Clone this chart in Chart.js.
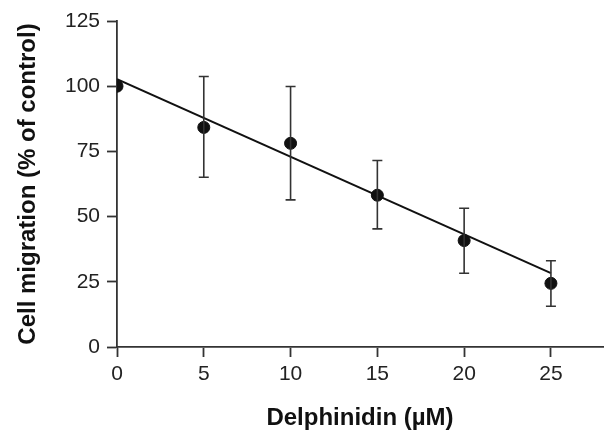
<!DOCTYPE html>
<html lang="en">
<head>
    <meta charset="UTF-8">
    <title>Delphinidin cell migration</title>
    <script src="https://cdn.jsdelivr.net/npm/chart.js"></script>
    <style>
        html, body { margin: 0; padding: 0; background: #fff; }
        #wrap { width: 610px; height: 437px; }
    </style>
</head>
<body>
    <div id="wrap"><canvas id="migrationChart"></canvas></div>

    <script>
        // data
        const doses = [0, 5, 10, 15, 20, 25];
        const migration = [100, 84.2, 78.1, 58.2, 40.8, 24.4];
        const errTop = [100, 103.7, 99.9, 71.5, 53.2, 33.1];
        const errBottom = [100, 65.1, 56.4, 45.3, 28.3, 15.6];
        const fitX = [0, 25];
        const fitY = [102.7, 28.3];
        const yTicks = [0, 25, 50, 75, 100, 125];

        const FONT = "'Liberation Sans', Arial, sans-serif";

        // error bars drawn through the scales
        const errorBars = {
            id: 'errorBars',
            afterDatasetsDraw(chart) {
                const { ctx, scales: { x, y } } = chart;
                ctx.save();
                ctx.strokeStyle = '#333';
                ctx.lineWidth = 1.6;
                doses.forEach((d, i) => {
                    if (errTop[i] === errBottom[i]) return;
                    const px = x.getPixelForValue(d);
                    const top = y.getPixelForValue(errTop[i]);
                    const bot = y.getPixelForValue(errBottom[i]);
                    ctx.beginPath();
                    ctx.moveTo(px, top); ctx.lineTo(px, bot);
                    ctx.moveTo(px - 5, top); ctx.lineTo(px + 5, top);
                    ctx.moveTo(px - 5, bot); ctx.lineTo(px + 5, bot);
                    ctx.stroke();
                });
                ctx.restore();
            }
        };

        new Chart(document.getElementById('migrationChart'), {
            type: 'scatter',
            data: {
                datasets: [
                    {
                        label: 'Fit',
                        data: fitX.map((v, i) => ({ x: v, y: fitY[i] })),
                        showLine: true,
                        borderColor: '#111',
                        borderWidth: 2,
                        pointRadius: 0
                    },
                    {
                        label: 'Cell migration',
                        data: doses.map((v, i) => ({ x: v, y: migration[i] })),
                        backgroundColor: '#111',
                        borderColor: '#111',
                        pointRadius: 6,
                        pointHoverRadius: 6
                    }
                ]
            },
            options: {
                responsive: true,
                maintainAspectRatio: false,
                animation: false,
                layout: { padding: { top: 21, right: 2, left: 0, bottom: 0 } },
                plugins: { legend: { display: false }, tooltip: { enabled: false } },
                scales: {
                    x: {
                        type: 'linear',
                        min: 0,
                        max: 28,
                        afterBuildTicks: s => { s.ticks = doses.map(v => ({ value: v })); },
                        afterFit: s => { s.height = 90; },
                        grid: { drawOnChartArea: false, tickLength: 10, color: '#333', tickWidth: 1.8 },
                        border: { color: '#333', width: 1.8 },
                        ticks: { color: '#222', font: { family: FONT, size: 21 }, padding: 5 },
                        title: {
                            display: true,
                            text: 'Delphinidin (\u00b5M)',
                            color: '#111',
                            font: { family: FONT, size: 24, weight: 'bold' },
                            padding: { top: 19 }
                        }
                    },
                    y: {
                        min: 0,
                        max: 125,
                        afterBuildTicks: s => { s.ticks = yTicks.map(v => ({ value: v })); },
                        afterFit: s => { s.width = 117; },
                        grid: { drawOnChartArea: false, tickLength: 10, color: '#333', tickWidth: 1.8 },
                        border: { color: '#333', width: 1.8 },
                        ticks: { color: '#222', font: { family: FONT, size: 21 }, padding: 7 },
                        title: {
                            display: true,
                            text: 'Cell migration (% of control)',
                            color: '#111',
                            font: { family: FONT, size: 24, weight: 'bold' },
                            padding: { top: 14, bottom: 4 }
                        }
                    }
                }
            },
            plugins: [errorBars]
        });
    </script>
</body>
</html>
